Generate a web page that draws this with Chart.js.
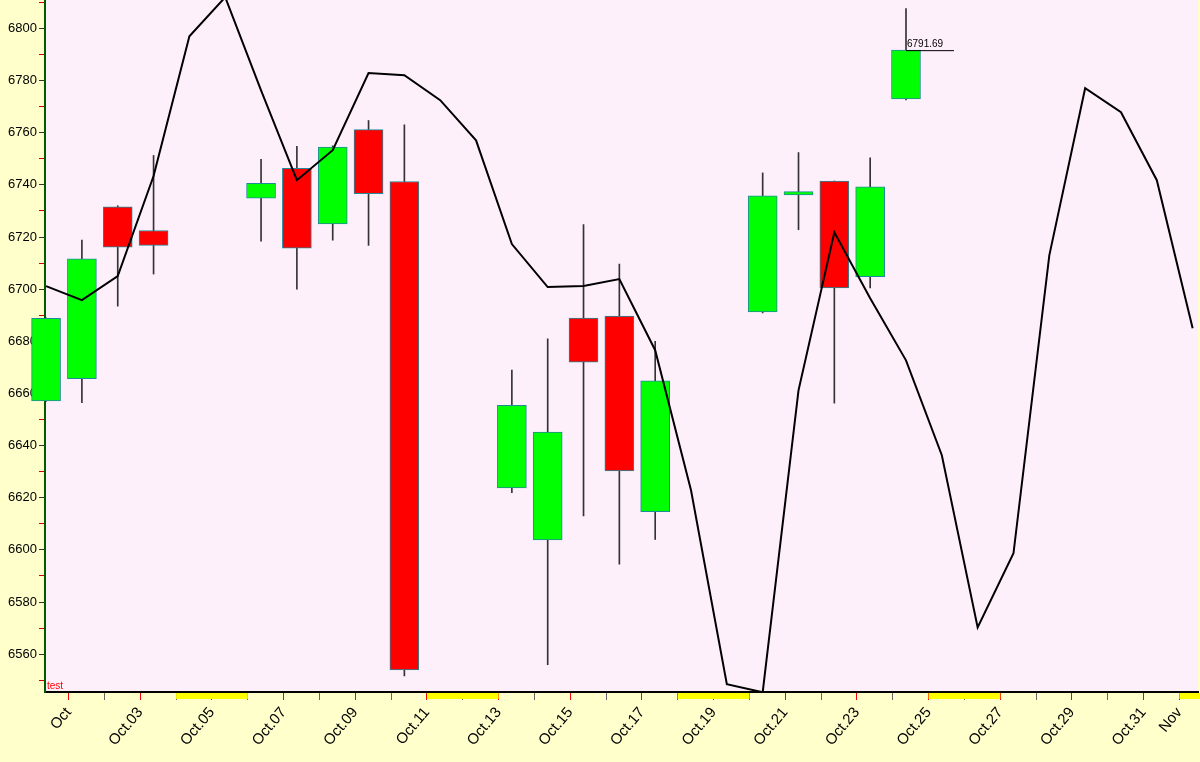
<!DOCTYPE html>
<html>
<head>
<meta charset="utf-8">
<script src="https://cdn.jsdelivr.net/npm/chart.js@4"></script>
<style>
  html, body { margin: 0; padding: 0; background: #ffffcc; overflow: hidden; }
  #wrap { width: 1200px; height: 762px; overflow: hidden; position: relative; }
  #c { position: absolute; left: 0; top: -10px; }
</style>
</head>
<body>
<div id="wrap"><canvas id="c" width="1233" height="772"></canvas></div>
<script>
// trading days (day of October) and OHLC
const candleDays = [1, 2, 3, 4, 7, 8, 9, 10, 11, 14, 15, 16, 17, 18, 21, 22, 23, 24, 25];
const opens  = [6657.1, 6665.7, 6731.6, 6722.5, 6734.9, 6746.4, 6725.0, 6761.2, 6741.3, 6623.8, 6603.8, 6688.9, 6689.7, 6614.7, 6691.3, 6736.2, 6741.5, 6704.8, 6773.0];
const highs  = [6689.0, 6718.8, 6732.0, 6751.3, 6749.8, 6754.8, 6755.0, 6764.7, 6763.0, 6669.0, 6681.0, 6724.8, 6709.6, 6680.0, 6744.6, 6752.4, 6741.5, 6750.4, 6807.6];
const lows   = [6657.0, 6656.5, 6693.5, 6705.8, 6718.4, 6700.0, 6718.8, 6716.8, 6551.7, 6622.0, 6556.0, 6613.0, 6594.5, 6604.0, 6690.9, 6722.8, 6656.3, 6700.5, 6772.6];
const closes = [6688.8, 6711.6, 6716.1, 6716.8, 6740.6, 6715.7, 6754.5, 6736.6, 6554.0, 6655.5, 6645.2, 6672.0, 6630.3, 6664.9, 6735.8, 6737.4, 6700.5, 6739.3, 6791.69];

// black line, one value per calendar day from Oct 1 to Nov 2
const lineValues = [6701.2, 6695.8, 6705.0, 6743.4, 6797.0, 6812.0, 6776.3, 6741.8, 6753.3, 6782.9,
  6782.1, 6772.5, 6757.1, 6717.3, 6700.8, 6701.2, 6703.9, 6676.6, 6622.9, 6548.5,
  6545.4, 6661.2, 6721.8, 6696.5, 6672.7, 6636.3, 6570.3, 6598.7, 6713.0, 6777.1,
  6767.9, 6741.8, 6685.0];

// x tick labels, one per day (Oct 1 .. Nov 2)
const tickLabels = ['Oct', '', 'Oct.03', '', 'Oct.05', '', 'Oct.07', '', 'Oct.09', '', 'Oct.11', '', 'Oct.13', '', 'Oct.15', '',
  'Oct.17', '', 'Oct.19', '', 'Oct.21', '', 'Oct.23', '', 'Oct.25', '', 'Oct.27', '', 'Oct.29', '', 'Oct.31', 'Nov', ''];
const weekendStarts = [4, 11, 18, 25, 32];
const yTicks = [6550, 6560, 6570, 6580, 6590, 6600, 6610, 6620, 6630, 6640, 6650, 6660, 6670, 6680, 6690,
  6700, 6710, 6720, 6730, 6740, 6750, 6760, 6770, 6780, 6790, 6800, 6810];
const tickShift = 0.63;

const bodies = candleDays.map((d, i) => ({ x: d, y: [opens[i], closes[i]] }));
const wicks = candleDays.map((d, i) => ({ x: d, y: [lows[i], highs[i]] }));
const bodyColors = candleDays.map((d, i) => closes[i] >= opens[i] ? '#00ff00' : '#ff0000');
const linePoints = lineValues.map((v, i) => ({ x: i + 1, y: v }));

const decor = {
    id: 'decor',
    beforeDraw(chart) {
        const { ctx, chartArea: a } = chart;
        ctx.save();
        ctx.fillStyle = '#ffffcc';
        ctx.fillRect(0, 0, chart.width, chart.height);
        ctx.fillStyle = '#fdf0fb';
        ctx.fillRect(a.left, a.top, a.right - a.left, a.bottom - a.top);
        ctx.restore();
    },
    afterDraw(chart) {
        const { ctx, chartArea: a, scales } = chart;
        const x = scales.x, y = scales.y;
        ctx.save();
        // weekend markers under the axis
        ctx.fillStyle = '#ffff00';
        weekendStarts.forEach(d => {
            const x0 = x.getPixelForValue(d + tickShift);
            const x1 = Math.min(x.getPixelForValue(d + 2 + tickShift), chart.width);
            ctx.fillRect(x0, a.bottom + 1, x1 - x0, 6);
        });
        // last close label
        const lx = x.getPixelForValue(25);
        const ly = y.getPixelForValue(closes[closes.length - 1]);
        ctx.strokeStyle = '#000';
        ctx.lineWidth = 1;
        ctx.beginPath();
        ctx.moveTo(lx, ly + 0.5);
        ctx.lineTo(lx + 48, ly + 0.5);
        ctx.stroke();
        ctx.fillStyle = '#000';
        ctx.font = '10px Arial';
        ctx.textBaseline = 'bottom';
        ctx.fillText('6791.69', lx + 1, ly - 1);
        ctx.fillStyle = '#ff0000';
        ctx.font = '10px Arial';
        ctx.fillText('test', a.left + 2, a.bottom - 1);
        ctx.restore();
    }
};

new Chart(document.getElementById('c'), {
    data: {
        datasets: [
            { type: 'line', data: linePoints, borderColor: '#000', borderWidth: 2, pointRadius: 0, tension: 0, order: 0 },
            { type: 'bar', data: bodies, backgroundColor: bodyColors, borderColor: '#1f8a9a', borderWidth: 1,
              barThickness: 29, grouped: false, order: 1, borderSkipped: false, clip: false },
            { type: 'bar', data: wicks, backgroundColor: '#333', barThickness: 1, grouped: false, order: 2, clip: false }
        ]
    },
    options: {
        responsive: false,
        animation: false,
        layout: { padding: 0 },
        plugins: { legend: { display: false }, tooltip: { enabled: false } },
        scales: {
            x: {
                type: 'linear', min: 0.97, max: 33.15, offset: false,
                afterBuildTicks: s => { s.ticks = tickLabels.map((t, i) => ({ value: i + 1 + tickShift })); },
                afterFit: s => { s.height = 70; },
                border: { color: '#000', width: 2 },
                grid: { offset: false, drawOnChartArea: false, tickLength: 8,
                        color: c => (tickLabels[c.index] ? '#ff0000' : '#666') },
                ticks: {
                    autoSkip: false, maxRotation: 50, minRotation: 50, color: '#000', padding: 4,
                    font: { family: 'Arial', size: 15 },
                    callback: (v, i) => tickLabels[i]
                }
            },
            y: {
                min: 6545.5, max: 6811,
                afterBuildTicks: s => { s.ticks = yTicks.map(v => ({ value: v })); },
                afterFit: s => { s.width = 45; },
                border: { color: '#005a00', width: 2 },
                grid: { drawOnChartArea: false, tickLength: 6,
                        color: c => (c.tick && c.tick.value % 20 === 0 ? '#333' : '#cc0000') },
                ticks: {
                    color: '#000', padding: 2, font: { family: 'Arial', size: 13 },
                    callback: v => (v % 20 === 0 ? String(v) : '')
                }
            }
        }
    },
    plugins: [decor]
});
</script>
</body>
</html>
